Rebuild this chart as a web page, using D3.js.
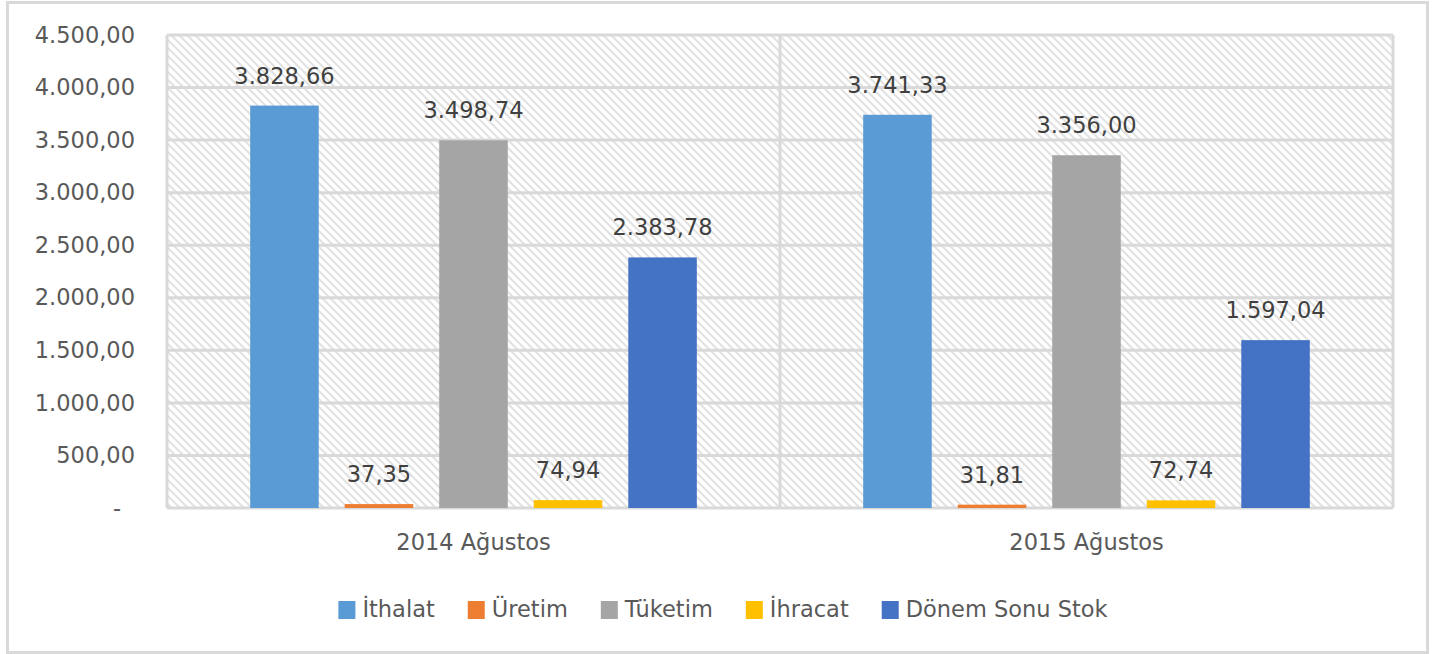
<!DOCTYPE html>
<html>
<head>
<meta charset="utf-8">
<script src="https://cdn.jsdelivr.net/npm/d3@7"></script>
<style>
  body { margin: 0; background: #fff; }
  text { font-family: "DejaVu Sans", sans-serif; }
</style>
</head>
<body>
<script>
// chart data
var periods = ['2014 Ağustos', '2015 Ağustos'];
var seriesNames = ['İthalat', 'Üretim', 'Tüketim', 'İhracat', 'Dönem Sonu Stok'];
var seriesColors = ['#5b9bd5', '#ed7d31', '#a5a5a5', '#ffc000', '#4472c4'];
var values2014 = [3828.66, 37.35, 3498.74, 74.94, 2383.78];
var values2015 = [3741.33, 31.81, 3356.00, 72.74, 1597.04];
var yTicks = [0, 500, 1000, 1500, 2000, 2500, 3000, 3500, 4000, 4500];

var w = 1441, h = 654;
var plotLeft = 167, plotRight = 1393, plotTop = 35, plotBottom = 508;
var fs = 22.5;

var tr = d3.formatLocale({ decimal: ',', thousands: '.', grouping: [3], currency: ['', ''] });
var fmt = tr.format(',.2f');

var rows = [values2014, values2015].map(function(vals, i) {
	return { period: periods[i], values: vals.map(function(v, j) {
		return { name: seriesNames[j], value: v, color: seriesColors[j] };
	}) };
});

var svg = d3.select('body').append('svg')
	.attr('width', w)
	.attr('height', h);

// hatch pattern for plot area
var pat = svg.append('defs').append('pattern')
	.attr('id', 'hatch')
	.attr('patternUnits', 'userSpaceOnUse')
	.attr('width', 8)
	.attr('height', 8);
pat.append('rect').attr('width', 8).attr('height', 8).attr('fill', '#fff');
pat.append('path')
	.attr('d', 'M-2,-2 L10,10 M-2,6 L2,10 M6,-2 L10,2')
	.attr('stroke', '#e2e2e2')
	.attr('stroke-width', 2);

// chart border
svg.append('rect')
	.attr('x', 7.5).attr('y', 2.5)
	.attr('width', 1420).attr('height', 650)
	.attr('fill', 'none')
	.attr('stroke', '#d9d9d9')
	.attr('stroke-width', 3);

var x0 = d3.scaleBand().domain(periods).range([plotLeft, plotRight]).padding(0);
var x1 = d3.scaleBand().domain(seriesNames).range([0, x0.bandwidth()])
	.paddingInner(0.275).paddingOuter(0.88);
var y = d3.scaleLinear().domain([0, 4500]).range([plotBottom, plotTop]);

svg.append('rect')
	.attr('x', plotLeft).attr('y', plotTop)
	.attr('width', plotRight - plotLeft).attr('height', plotBottom - plotTop)
	.attr('fill', 'url(#hatch)');

// horizontal gridlines
svg.append('g')
	.selectAll('line')
	.data(yTicks)
	.enter().append('line')
		.attr('x1', plotLeft).attr('x2', plotRight)
		.attr('y1', function(d) { return y(d); })
		.attr('y2', function(d) { return y(d); })
		.attr('stroke', '#d9d9d9')
		.attr('stroke-width', 3);

// vertical gridlines at category edges
var edges = periods.map(function(p) { return x0(p); }).concat([plotRight]);
svg.append('g')
	.selectAll('line')
	.data(edges)
	.enter().append('line')
		.attr('x1', function(d) { return d; })
		.attr('x2', function(d) { return d; })
		.attr('y1', plotTop).attr('y2', plotBottom)
		.attr('stroke', '#d9d9d9')
		.attr('stroke-width', 3);

// y axis labels
var yAxis = svg.append('g')
	.attr('transform', 'translate(135,0)')
	.call(d3.axisLeft(y).tickValues(yTicks).tickSize(0).tickPadding(0)
		.tickFormat(function(d) { return d === 0 ? '-' : fmt(d); }));
yAxis.select('.domain').remove();
yAxis.selectAll('text')
	.attr('font-family', '"DejaVu Sans", sans-serif')
	.attr('font-size', fs)
	.attr('fill', '#595959')
	.attr('dx', function(d) { return d === 0 ? -14 : 0; });

// x axis labels
var xAxis = svg.append('g')
	.attr('transform', 'translate(0,' + plotBottom + ')')
	.call(d3.axisBottom(x0).tickSize(0).tickPadding(26));
xAxis.select('.domain').remove();
xAxis.selectAll('text')
	.attr('font-family', '"DejaVu Sans", sans-serif')
	.attr('font-size', fs)
	.attr('fill', '#595959');

// bars
var groups = svg.append('g')
	.selectAll('g')
	.data(rows)
	.enter().append('g')
		.attr('transform', function(d) { return 'translate(' + x0(d.period) + ',0)'; });

groups.selectAll('rect')
	.data(function(d) { return d.values; })
	.enter().append('rect')
		.attr('x', function(d) { return x1(d.name); })
		.attr('y', function(d) { return y(d.value); })
		.attr('width', x1.bandwidth())
		.attr('height', function(d) { return plotBottom - y(d.value); })
		.attr('fill', function(d) { return d.color; });

groups.selectAll('text')
	.data(function(d) { return d.values; })
	.enter().append('text')
		.attr('x', function(d) { return x1(d.name) + x1.bandwidth() / 2; })
		.attr('y', function(d) { return y(d.value) - 22; })
		.attr('text-anchor', 'middle')
		.attr('font-size', fs)
		.attr('fill', '#404040')
		.text(function(d) { return fmt(d.value); });

// legend
var legend = svg.append('g');
var items = legend.selectAll('g')
	.data(seriesNames)
	.enter().append('g');
items.append('rect')
	.attr('width', 17).attr('height', 18)
	.attr('y', -16)
	.attr('fill', function(d, i) { return seriesColors[i]; });
items.append('text')
	.attr('x', 24)
	.attr('font-size', fs)
	.attr('fill', '#595959')
	.text(function(d) { return d; });

var pos = 0;
items.each(function() {
	var g = d3.select(this);
	g.attr('transform', 'translate(' + pos + ',0)');
	pos += 24 + g.select('text').node().getComputedTextLength() + 33;
});
pos -= 33;
legend.attr('transform', 'translate(' + (723 - pos / 2) + ',617)');
</script>
</body>
</html>
